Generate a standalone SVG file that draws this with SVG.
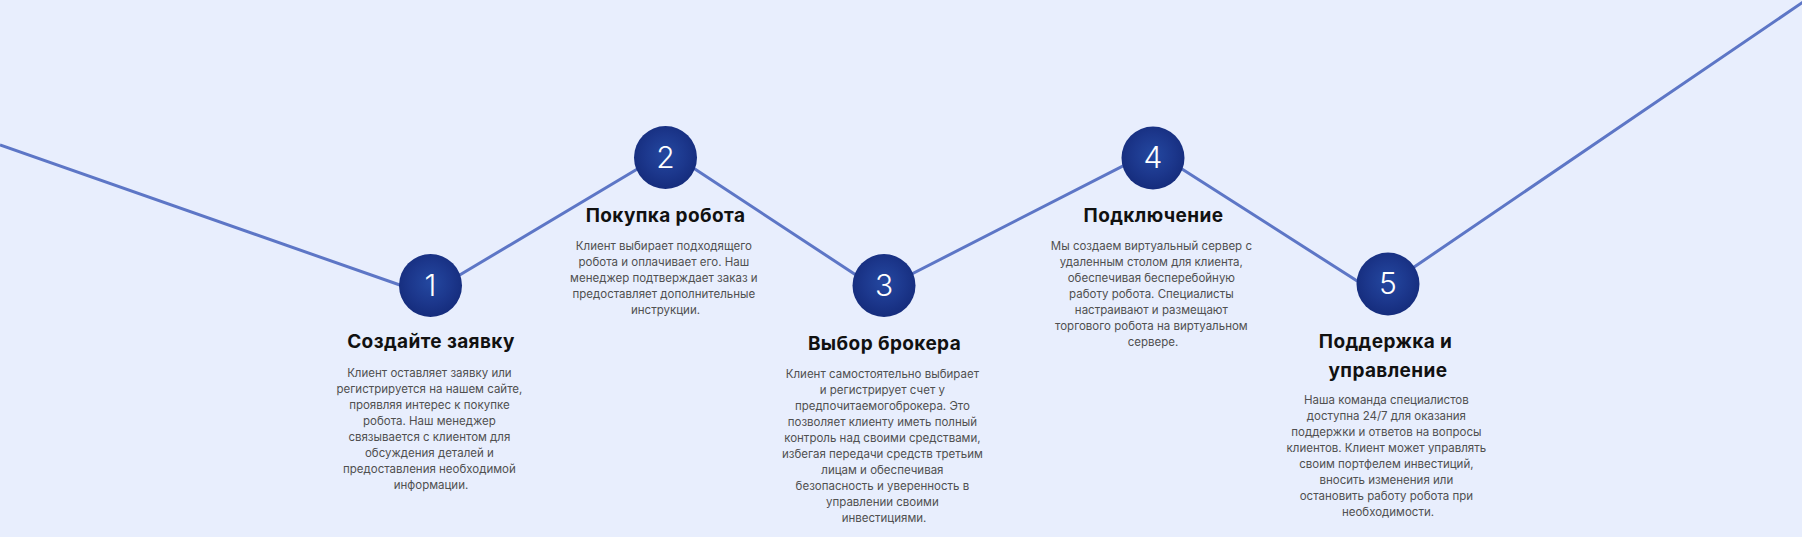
<svg xmlns="http://www.w3.org/2000/svg" width="1802" height="537" viewBox="0 0 1802 537">
  <defs>
    <radialGradient id="ball" cx="50%" cy="45%" r="55%">
      <stop offset="0" stop-color="#2448a0"/>
      <stop offset="0.6" stop-color="#1c378c"/>
      <stop offset="1" stop-color="#152c7c"/>
    </radialGradient>
    <style>
      .line { fill: none; stroke: #5d76c6; stroke-width: 3; stroke-linejoin: round; }
      .ball { fill: url(#ball); }
      .num { font-family: Inter, "Open Sans", sans-serif; font-weight: 300; font-size: 30px; fill: #ffffff; text-anchor: middle; }
      .h { font-family: Inter, "Open Sans", sans-serif; font-weight: 700; font-size: 19px; letter-spacing: 0.4px; fill: #111111; text-anchor: middle; }
      .b { font-family: Inter, "Open Sans", sans-serif; font-weight: 400; font-size: 11.5px; fill: #505050; text-anchor: middle; }
    </style>
  </defs>
  <rect x="0" y="0" width="1802" height="537" fill="#e8eefd"/>
  <g id="connectors">
    <polyline class="line" points="0,145 427,294.5 667.5,151 879.5,290.5 1153,150.6 1376,293 1806,0"/>
  </g>
  <g id="node1">
    <circle class="ball" cx="430.5" cy="285.5" r="31.5"/>
    <text class="num" x="430.5" y="295.5">1</text>
    <text class="h" x="431" y="348">Создайте заявку</text>
    <text class="b" x="431" y="376.7">
      <tspan x="431" dy="0">Клиент оставляет заявку или</tspan>
      <tspan x="431" dy="16">регистрируется на нашем сайте,</tspan>
      <tspan x="431" dy="16">проявляя интерес к покупке</tspan>
      <tspan x="431" dy="16">робота. Наш менеджер</tspan>
      <tspan x="431" dy="16">связывается с клиентом для</tspan>
      <tspan x="431" dy="16">обсуждения деталей и</tspan>
      <tspan x="431" dy="16">предоставления необходимой</tspan>
      <tspan x="431" dy="16">информации.</tspan>
    </text>
  </g>
  <g id="node2">
    <circle class="ball" cx="665.5" cy="157.5" r="31.5"/>
    <text class="num" x="665.5" y="167.5">2</text>
    <text class="h" x="665.5" y="222">Покупка робота</text>
    <text class="b" x="665.5" y="250">
      <tspan x="665.5" dy="0">Клиент выбирает подходящего</tspan>
      <tspan x="665.5" dy="16">робота и оплачивает его. Наш</tspan>
      <tspan x="665.5" dy="16">менеджер подтверждает заказ и</tspan>
      <tspan x="665.5" dy="16">предоставляет дополнительные</tspan>
      <tspan x="665.5" dy="16">инструкции.</tspan>
    </text>
  </g>
  <g id="node3">
    <circle class="ball" cx="884" cy="285.5" r="31.5"/>
    <text class="num" x="884" y="295.5">3</text>
    <text class="h" x="884.5" y="350">Выбор брокера</text>
    <text class="b" x="884" y="378.3">
      <tspan x="884" dy="0">Клиент самостоятельно выбирает</tspan>
      <tspan x="884" dy="16">и регистрирует счет у</tspan>
      <tspan x="884" dy="16">предпочитаемогоброкера. Это</tspan>
      <tspan x="884" dy="16">позволяет клиенту иметь полный</tspan>
      <tspan x="884" dy="16">контроль над своими средствами,</tspan>
      <tspan x="884" dy="16">избегая передачи средств третьим</tspan>
      <tspan x="884" dy="16">лицам и обеспечивая</tspan>
      <tspan x="884" dy="16">безопасность и уверенность в</tspan>
      <tspan x="884" dy="16">управлении своими</tspan>
      <tspan x="884" dy="16">инвестициями.</tspan>
    </text>
  </g>
  <g id="node4">
    <circle class="ball" cx="1153" cy="158" r="31.5"/>
    <text class="num" x="1153" y="168">4</text>
    <text class="h" x="1153.5" y="222">Подключение</text>
    <text class="b" x="1153" y="250">
      <tspan x="1153" dy="0">Мы создаем виртуальный сервер с</tspan>
      <tspan x="1153" dy="16">удаленным столом для клиента,</tspan>
      <tspan x="1153" dy="16">обеспечивая бесперебойную</tspan>
      <tspan x="1153" dy="16">работу робота. Специалисты</tspan>
      <tspan x="1153" dy="16">настраивают и размещают</tspan>
      <tspan x="1153" dy="16">торгового робота на виртуальном</tspan>
      <tspan x="1153" dy="16">сервере.</tspan>
    </text>
  </g>
  <g id="node5">
    <circle class="ball" cx="1388" cy="284" r="31.5"/>
    <text class="num" x="1388" y="294">5</text>
    <text class="h" x="1388" y="348">
      <tspan x="1388" dy="0">Поддержка и</tspan>
      <tspan x="1388" dy="28.5">управление</tspan>
    </text>
    <text class="b" x="1388" y="404">
      <tspan x="1388" dy="0">Наша команда специалистов</tspan>
      <tspan x="1388" dy="16">доступна 24/7 для оказания</tspan>
      <tspan x="1388" dy="16">поддержки и ответов на вопросы</tspan>
      <tspan x="1388" dy="16">клиентов. Клиент может управлять</tspan>
      <tspan x="1388" dy="16">своим портфелем инвестиций,</tspan>
      <tspan x="1388" dy="16">вносить изменения или</tspan>
      <tspan x="1388" dy="16">остановить работу робота при</tspan>
      <tspan x="1388" dy="16">необходимости.</tspan>
    </text>
  </g>
</svg>
